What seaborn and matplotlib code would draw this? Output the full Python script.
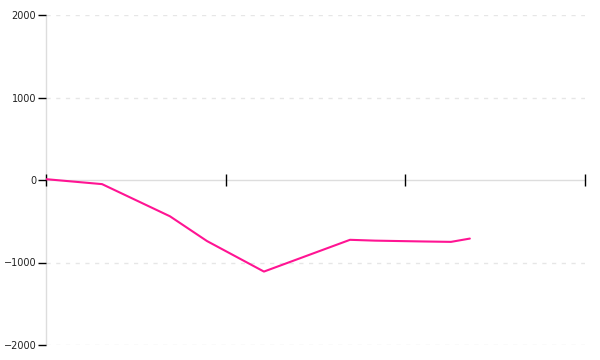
import matplotlib
matplotlib.use("Agg")
import matplotlib.pyplot as plt
import seaborn as sns
import pandas as pd

# data
x_pos = [0.0, 0.312, 0.69, 0.896, 1.213, 1.692, 1.831, 2.098, 2.254, 2.359]
values = [10, -50, -440, -740, -1110, -725, -735, -745, -750, -710]
y_ticks = [-2000, -1000, 0, 1000, 2000]
x_ticks = [0, 1, 2, 3]

df = pd.DataFrame({"x": x_pos, "y": values})

sns.set_style("white")
plt.rcParams["font.family"] = ["DejaVu Sans"]

fig = plt.figure(figsize=(6, 3.6), dpi=100)
ax = fig.add_axes([46/600, 15/360, (585-46)/600, (345-15)/360])

sns.lineplot(data=df, x="x", y="y", color="#ff1493", linewidth=1.5, ax=ax)

ax.set_xlim(0, 3)
ax.set_ylim(-2000, 2000)
ax.set_xticks(x_ticks)
ax.set_xticklabels([])
ax.set_yticks(y_ticks)
ax.set_yticklabels([("\u2212" if v < 0 else "") + str(abs(v)) for v in y_ticks],
                   fontsize=7, color="#222222")
ax.set_xlabel("")
ax.set_ylabel("")

for v in [-2000, -1000, 1000, 2000]:
    ax.axhline(v, color="#e6e6e6", linewidth=1, linestyle=(0, (3, 4)), zorder=0)

for s in ["top", "right"]:
    ax.spines[s].set_visible(False)
ax.spines["left"].set_color("#dddddd")
ax.spines["left"].set_linewidth(1)
ax.spines["left"].set_zorder(0)
ax.spines["bottom"].set_position(("data", 0))
ax.spines["bottom"].set_color("#dddddd")
ax.spines["bottom"].set_linewidth(1)
ax.spines["bottom"].set_zorder(0)

ax.tick_params(axis="x", bottom=True, direction="inout", length=8, width=1, color="black")
ax.tick_params(axis="y", left=True, direction="out", length=6, width=1, color="black", pad=1)

fig.savefig("out.png", dpi=100)
